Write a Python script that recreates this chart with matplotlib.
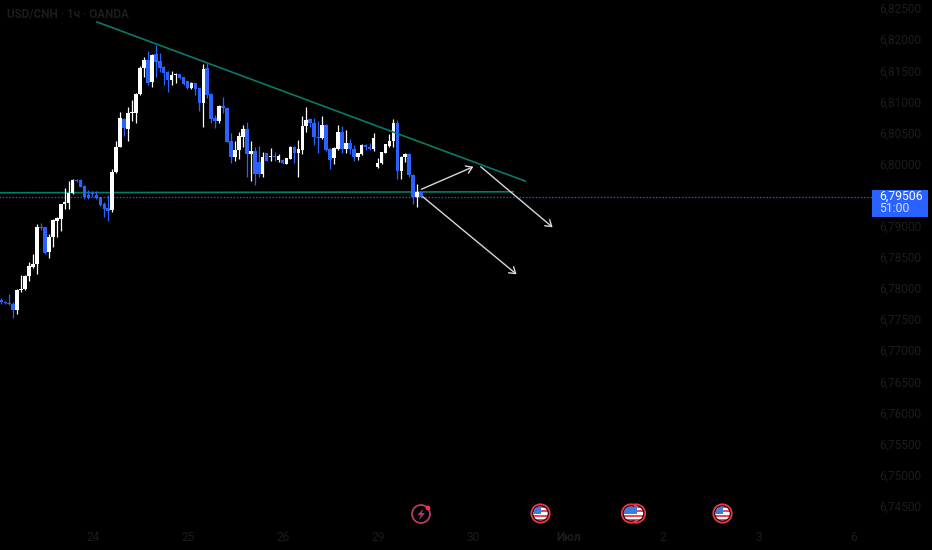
import numpy as np
import matplotlib
matplotlib.use("Agg")
import matplotlib.pyplot as plt
from matplotlib.patches import Circle, Rectangle, Polygon

plt.rcParams['font.family'] = ['Roboto', 'DejaVu Sans']

# candles, hourly, USD/CNH
opens = [6.77824, 6.77802, 6.77786, 6.77765, 6.77668, 6.77990, 6.78001, 6.78220, 6.78360, 6.78408,
         6.79003, 6.78998, 6.78596, 6.78837, 6.79105, 6.79137, 6.79373, 6.79394, 6.79555, 6.79764,
         6.79759, 6.79662, 6.79512, 6.79544, 6.79518, 6.79485, 6.79373, 6.79309, 6.79276, 6.79882,
         6.80295, 6.80745, 6.80584, 6.80831, 6.80836, 6.81142, 6.81554, 6.81688, 6.81329, 6.81780,
         6.81672, 6.81581, 6.81495, 6.81367, 6.81442, 6.81463, 6.81410, 6.81345, 6.81233, 6.81313,
         6.81233, 6.81002, 6.81560, 6.81142, 6.80750, 6.80702, 6.80954, 6.80917, 6.80381, 6.80134,
         6.80241, 6.80456, 6.80579, 6.80182, 6.80225, 6.80054, 6.79855, 6.80188, 6.80123, 6.80145,
         6.80080, 6.80080, 6.80016, 6.80102, 6.80289, 6.80188, 6.80241, 6.80627, 6.80734, 6.80681,
         6.80456, 6.80429, 6.80643, 6.80252, 6.80107, 6.80257, 6.80531, 6.80257, 6.80348, 6.80263,
         6.80134, 6.80177, 6.80327, 6.80289, 6.80252, 6.79962, 6.80027, 6.80198, 6.80311, 6.80386,
         6.80681, 6.79898, 6.80134, 6.80177, 6.79839, 6.79491, 6.79560]
highs = [6.77867, 6.77808, 6.77926, 6.77802, 6.78001, 6.78226, 6.78231, 6.78446, 6.78564, 6.79051,
         6.79062, 6.79008, 6.78890, 6.79126, 6.79169, 6.79378, 6.79625, 6.79743, 6.79770, 6.79770,
         6.79770, 6.79673, 6.79593, 6.79587, 6.79587, 6.79491, 6.79410, 6.79512, 6.79930, 6.80391,
         6.80847, 6.80756, 6.80927, 6.81045, 6.81158, 6.81592, 6.81742, 6.81828, 6.81785, 6.81930,
         6.81806, 6.81592, 6.81506, 6.81517, 6.81485, 6.81469, 6.81420, 6.81356, 6.81329, 6.81324,
         6.81244, 6.81624, 6.81635, 6.81152, 6.80804, 6.80965, 6.81093, 6.80927, 6.80509, 6.80391,
         6.80536, 6.80649, 6.80691, 6.80391, 6.80295, 6.80306, 6.80214, 6.80198, 6.80279, 6.80209,
         6.80177, 6.80091, 6.80113, 6.80300, 6.80306, 6.80402, 6.80788, 6.80927, 6.80750, 6.80750,
         6.80702, 6.80788, 6.80654, 6.80268, 6.80284, 6.80638, 6.80627, 6.80563, 6.80423, 6.80322,
         6.80198, 6.80338, 6.80338, 6.80348, 6.80509, 6.80107, 6.80214, 6.80343, 6.80498, 6.80734,
         6.80724, 6.80145, 6.80198, 6.80188, 6.79855, 6.79694, 6.79571]
lows = [6.77765, 6.77770, 6.77749, 6.77545, 6.77599, 6.77952, 6.77990, 6.78140, 6.78349, 6.78247,
        6.78955, 6.78569, 6.78510, 6.78676, 6.78842, 6.78944, 6.79287, 6.79287, 6.79534, 6.79732,
        6.79641, 6.79453, 6.79459, 6.79480, 6.79459, 6.79346, 6.79169, 6.79094, 6.79239, 6.79866,
        6.80284, 6.80466, 6.80381, 6.80713, 6.80681, 6.81126, 6.81410, 6.81292, 6.81254, 6.81410,
        6.81501, 6.81281, 6.81174, 6.81292, 6.81313, 6.81378, 6.81281, 6.81227, 6.81222, 6.81126,
        6.80874, 6.80616, 6.81072, 6.80681, 6.80595, 6.80670, 6.80831, 6.80364, 6.80038, 6.80059,
        6.80102, 6.80295, 6.79812, 6.79748, 6.79684, 6.79812, 6.79812, 6.80059, 6.80059, 6.80070,
        6.80048, 6.80016, 6.80011, 6.80091, 6.80038, 6.79812, 6.80177, 6.80536, 6.80606, 6.80322,
        6.80198, 6.80413, 6.80230, 6.79941, 6.80016, 6.80241, 6.80188, 6.80198, 6.80177, 6.80070,
        6.80080, 6.80155, 6.80241, 6.80241, 6.80230, 6.79946, 6.80016, 6.80188, 6.80295, 6.80295,
        6.79770, 6.79780, 6.80048, 6.79812, 6.79373, 6.79319, 6.79464]
closes = [6.77802, 6.77776, 6.77760, 6.77674, 6.77990, 6.78011, 6.78220, 6.78376, 6.78403, 6.79003,
          6.78992, 6.78590, 6.78842, 6.79110, 6.79148, 6.79368, 6.79400, 6.79555, 6.79759, 6.79748,
          6.79652, 6.79491, 6.79469, 6.79528, 6.79475, 6.79362, 6.79298, 6.79266, 6.79882, 6.80295,
          6.80756, 6.80590, 6.80842, 6.80847, 6.81147, 6.81560, 6.81688, 6.81324, 6.81774, 6.81662,
          6.81565, 6.81485, 6.81367, 6.81453, 6.81463, 6.81394, 6.81302, 6.81233, 6.81319, 6.81227,
          6.81002, 6.81549, 6.81126, 6.80734, 6.80713, 6.80949, 6.80917, 6.80375, 6.80134, 6.80241,
          6.80466, 6.80579, 6.80182, 6.80225, 6.79855, 6.79855, 6.80129, 6.80070, 6.80145, 6.80123,
          6.80139, 6.80027, 6.80107, 6.80289, 6.80188, 6.80252, 6.80627, 6.80724, 6.80681, 6.80445,
          6.80434, 6.80643, 6.80241, 6.80080, 6.80273, 6.80531, 6.80263, 6.80354, 6.80257, 6.80134,
          6.80188, 6.80322, 6.80295, 6.80252, 6.80440, 6.80027, 6.80204, 6.80332, 6.80391, 6.80681,
          6.79898, 6.80134, 6.80177, 6.79834, 6.79491, 6.79560, 6.79491]

# drawn lines, in (candle index, price)
resistance_x = [24.16, 132.24]
resistance_y = [6.82301, 6.79744]
support_x = [-0.5, 129.2]
support_y = [6.79555, 6.79571]
arrow_segments = [
    ((106.05, 6.79611), (119.2, 6.79974)),
    ((121.05, 6.79974), (139.2, 6.79000)),
    ((106.4, 6.79492), (130.1, 6.78244)),
]
last_line = 6.79495

price_ticks = [6.825, 6.82, 6.815, 6.81, 6.805, 6.80, 6.79, 6.785, 6.78, 6.775,
               6.77, 6.765, 6.76, 6.755, 6.75, 6.745]
time_labels = ['24', '25', '26', '29', '30', 'Июл', '2', '3', '6']
time_ticks = [23.15, 47.15, 71.15, 95.15, 119.15, 143.15, 167.15, 191.15, 215.15]

BG = '#000000'
UP = '#ffffff'
DOWN = '#2962ff'
TEAL = '#087a66'
FAINT = '#1c1c1c'

fig = plt.figure(figsize=(9.32, 5.5), dpi=100, facecolor=BG)
ax = fig.add_axes([0, 0, 1, 1], facecolor=BG)
ax.set_xlim(-0.336, 235.0)
ax.set_ylim(6.738118, 6.826543)
ax.axis('off')

for i in range(len(opens)):
    col = UP if closes[i] >= opens[i] else DOWN
    ax.vlines(i, lows[i], highs[i], color=col, lw=0.9, zorder=3)
    ax.bar(i, abs(closes[i] - opens[i]), bottom=min(opens[i], closes[i]), width=0.9,
           color=col, linewidth=0, zorder=4)

ax.plot(resistance_x, resistance_y, color=TEAL, lw=1.2, zorder=5)
ax.plot(support_x, support_y, color=TEAL, lw=1.2, zorder=2)
ax.plot([-1, 221.5], [last_line, last_line], color='#2458e0', lw=0.9, ls=(0, (1.2, 1.4)), zorder=2)

for start, end in arrow_segments:
    ax.annotate('', xy=end, xytext=start, zorder=6,
                arrowprops=dict(arrowstyle='->,head_length=0.42,head_width=0.28', color='#d8d8d8',
                                lw=1, shrinkA=0, shrinkB=0))

for p in price_ticks:
    ax.text(900.5 / 932, p, f'{p:.5f}'.replace('.', ','), transform=ax.get_yaxis_transform(),
            color=FAINT, fontsize=8.6, ha='center', va='center')
for t, lab in zip(time_ticks, time_labels):
    ax.text(t, 1 - 537.5 / 550, lab, transform=ax.get_xaxis_transform(),
            color=FAINT, fontsize=8.6, ha='center', va='center',
            fontweight='bold' if lab == 'Июл' else 'normal')

# overlay in screen pixels: title, price tag, event icons
ov = fig.add_axes([0, 0, 1, 1], facecolor='none')
ov.set_xlim(0, 932)
ov.set_ylim(550, 0)
ov.axis('off')

ov.text(7, 14.5, 'USD/CNH · 1ч · OANDA', color=FAINT, fontsize=8.4, fontweight='bold',
        ha='left', va='center')

ov.add_patch(Rectangle((872, 189.5), 55.5, 27, facecolor='#2962ff', edgecolor='none', zorder=5))
ov.text(879.5, 196.5, '6,79506', color='white', fontsize=8.8, ha='left', va='center', zorder=6)
ov.text(879.5, 209, '51:00', color='#d6e0ff', fontsize=8.8, ha='left', va='center', zorder=6)


def flag_icon(cx, cy):
    ov.add_patch(Circle((cx, cy), 9.2, facecolor=BG, edgecolor='#f23645', lw=1.3, zorder=7))
    clip = Circle((cx, cy), 7.2, transform=ov.transData)
    for k in range(7):
        col = '#f0485a' if k % 2 == 0 else '#ffffff'
        r = Rectangle((cx - 8, cy - 7.5 + k * 15 / 7), 16, 15 / 7, facecolor=col, edgecolor='none', zorder=8)
        ov.add_patch(r)
        r.set_clip_path(clip)
    c = Rectangle((cx - 8, cy - 7.5), 8.5, 7.5, facecolor='#3d7be0', edgecolor='none', zorder=9)
    ov.add_patch(c)
    c.set_clip_path(clip)


flag_icon(636, 513.5)
flag_icon(540.5, 513.5)
flag_icon(631, 513.5)
flag_icon(722.5, 513.5)

# bolt icon
ov.add_patch(Circle((421, 514), 9, facecolor=BG, edgecolor='#b23a6e', lw=1.3, zorder=7))
ov.add_patch(Polygon([(423.5, 508.5), (417.5, 515), (420.8, 515), (419, 520), (425, 513), (421.7, 513)],
                     closed=True, facecolor='#a83a78', edgecolor='none', zorder=8))
ov.add_patch(Circle((428, 508), 2.4, facecolor='#f23645', edgecolor='none', zorder=9))

fig.savefig('out.png', dpi=100, facecolor=BG)
